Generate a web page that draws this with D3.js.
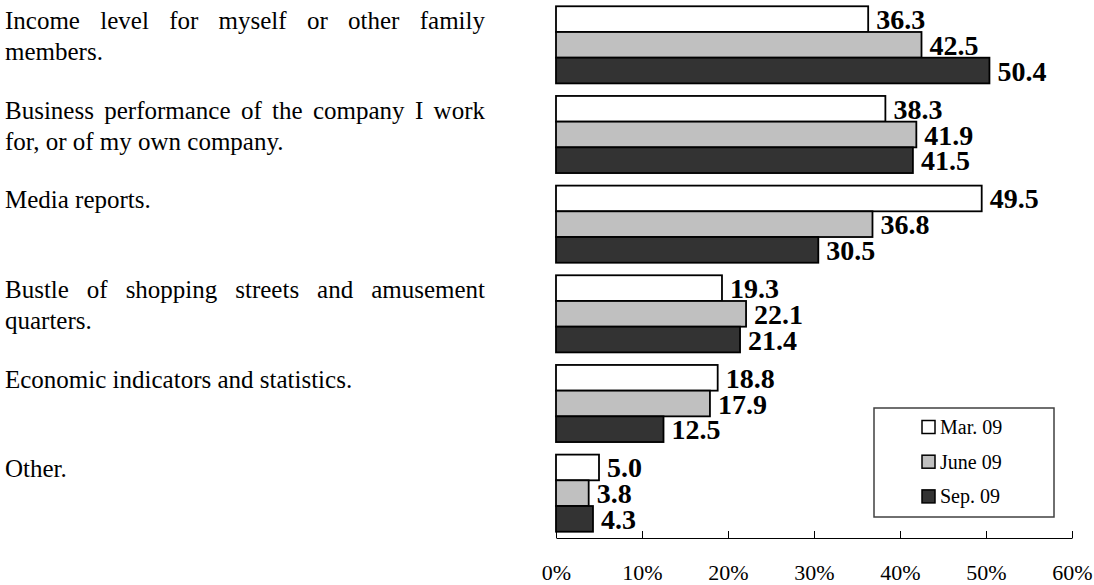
<!DOCTYPE html>
<html>
<head>
<meta charset="utf-8">
<script src="https://cdn.jsdelivr.net/npm/d3@7"></script>
<style>
  body { margin: 0; background: #fff; }
  svg { display: block; font-family: "Liberation Serif", "Times New Roman", serif; }
</style>
</head>
<body>
<div id="chart"></div>
<script>
// categories, top to bottom; each label is a list of lines
var categories = [
  "Income level for myself or other family members.",
  "Business performance of the company I work for, or of my own company.",
  "Media reports.",
  "Bustle of shopping streets and amusement quarters.",
  "Economic indicators and statistics.",
  "Other."
];
var labelLines = [
  ["Income level for myself or other family", "members."],
  ["Business performance of the company I work", "for, or of my own company."],
  ["Media reports."],
  ["Bustle of shopping streets and amusement", "quarters."],
  ["Economic indicators and statistics."],
  ["Other."]
];
var series = ["Mar. 09", "June 09", "Sep. 09"];
var mar09 = [36.3, 38.3, 49.5, 19.3, 18.8, 5.0];
var jun09 = [42.5, 41.9, 36.8, 22.1, 17.9, 3.8];
var sep09 = [50.4, 41.5, 30.5, 21.4, 12.5, 4.3];
var tickValues = [0, 10, 20, 30, 40, 50, 60];

var colors = { "Mar. 09": "#ffffff", "June 09": "#c0c0c0", "Sep. 09": "#333333" };
var seriesValues = { "Mar. 09": mar09, "June 09": jun09, "Sep. 09": sep09 };

var width = 1094, height = 585;
var svg = d3.select("#chart").append("svg")
  .attr("width", width)
  .attr("height", height);

var x = d3.scaleLinear().domain([0, 60]).range([556, 1072]);
var y = d3.scaleBand().domain(categories).range([0, 538])
  .paddingInner(0.14).paddingOuter(0.07);
var yInner = d3.scaleBand().domain(series).range([0, y.bandwidth()]);

// flat list of bars
var bars = [];
categories.forEach(function(c, i) {
  series.forEach(function(s) {
    bars.push({ cat: c, series: s, value: seriesValues[s][i] });
  });
});

var barGroup = svg.append("g");
barGroup.selectAll("rect")
  .data(bars)
  .enter()
  .append("rect")
  .attr("x", x(0))
  .attr("y", d => y(d.cat) + yInner(d.series))
  .attr("width", d => x(d.value) - x(0))
  .attr("height", yInner.bandwidth())
  .attr("fill", d => colors[d.series])
  .attr("stroke", "#000")
  .attr("stroke-width", 1.8);

// value labels
barGroup.selectAll("text")
  .data(bars)
  .enter()
  .append("text")
  .attr("x", d => x(d.value) + 8)
  .attr("y", d => y(d.cat) + yInner(d.series) + yInner.bandwidth() / 2 + 10)
  .attr("font-size", 28)
  .attr("font-weight", "bold")
  .attr("fill", "#000")
  .text(d => d.value.toFixed(1));

// x axis, ticks pointing up
var axis = d3.axisBottom(x)
  .tickValues(tickValues)
  .tickSizeInner(-7)
  .tickSizeOuter(0)
  .tickPadding(26)
  .tickFormat(d => d + "%");

var axisG = svg.append("g")
  .attr("transform", "translate(0,538)")
  .call(axis);
axisG.select(".domain").attr("stroke", "#000");
axisG.selectAll(".tick line").attr("stroke", "#000");
axisG.selectAll(".tick text")
  .attr("font-family", "Liberation Serif, Times New Roman, serif")
  .attr("font-size", 22)
  .attr("fill", "#000");

// category labels, justified like the original text box
var labelX = 5, labelW = 480, lineH = 31;
var labelGroup = svg.append("g")
  .attr("font-size", 25)
  .attr("fill", "#000");

var measure = labelGroup.append("text").attr("x", -1000).attr("y", -1000);
function wordWidth(w) {
  measure.text(w);
  return measure.node().getComputedTextLength();
}

labelLines.forEach(function(lines, i) {
  var baseY = y(categories[i]) - y.step() * y.paddingOuter() + 29;
  lines.forEach(function(line, j) {
    var t = labelGroup.append("text").attr("y", baseY + j * lineH);
    var last = j === lines.length - 1;
    if (last) {
      t.attr("x", labelX).text(line);
      return;
    }
    var words = line.split(" ");
    var widths = words.map(wordWidth);
    var gap = (labelW - d3.sum(widths)) / (words.length - 1);
    var cx = labelX;
    words.forEach(function(w, k) {
      t.append("tspan").attr("x", cx).text(w);
      cx += widths[k] + gap;
    });
  });
});
measure.remove();

// legend
var legend = svg.append("g").attr("transform", "translate(874,408)");
legend.append("rect")
  .attr("width", 180)
  .attr("height", 109)
  .attr("fill", "#fff")
  .attr("stroke", "#404040")
  .attr("stroke-width", 1.5);

var items = legend.selectAll(".legend-item")
  .data(series)
  .enter()
  .append("g")
  .attr("class", "legend-item")
  .attr("transform", (d, i) => "translate(48," + (19 + i * 34.7) + ")");

items.append("rect")
  .attr("x", 0)
  .attr("y", -6.5)
  .attr("width", 13)
  .attr("height", 13)
  .attr("fill", d => colors[d])
  .attr("stroke", "#000")
  .attr("stroke-width", 1.5);

items.append("text")
  .attr("x", 18)
  .attr("y", 7)
  .attr("font-size", 20)
  .attr("fill", "#000")
  .text(d => d);
</script>
</body>
</html>
